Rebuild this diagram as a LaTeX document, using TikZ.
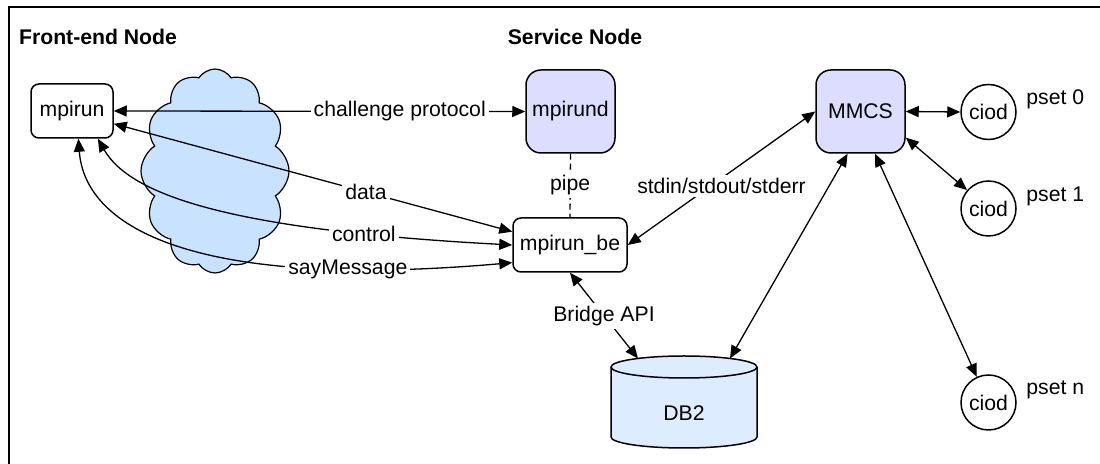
\documentclass[tikz,border=0pt]{standalone}
\usepackage{fontspec}
\setmainfont{Liberation Sans}
\usetikzlibrary{arrows.meta,shapes.symbols}

\definecolor{cloudblue}{RGB}{200,226,255}
\definecolor{procfill}{RGB}{221,221,255}
\definecolor{dbfill}{RGB}{221,236,255}

\begin{document}
\begin{tikzpicture}[
  x=0.5pt, y=-0.5pt,
  every node/.style={font=\fontsize{10.6pt}{12pt}\selectfont, text=black},
  heading/.style={font=\fontsize{10.6pt}{12pt}\selectfont\bfseries},
  proc/.style={draw, line width=0.75pt, rounded corners=4pt, fill=white,
               minimum width=41pt, minimum height=27pt, inner sep=1pt},
  daemon/.style={draw, line width=0.75pt, rounded corners=7.5pt, fill=procfill,
                 minimum width=44.5pt, minimum height=41.5pt, inner sep=1pt},
  ionode/.style={draw, circle, line width=0.75pt, minimum size=27.5pt, inner sep=0pt},
  lbl/.style={fill=white, inner sep=1.5pt},
  conn/.style={line width=0.65pt},
  biarrow/.style={conn, {Triangle[length=6.5pt,width=5.5pt]}-{Triangle[length=6.5pt,width=5.5pt]}},
  pipeline/.style={conn, dash pattern=on 3pt off 2pt},
]
\useasboundingbox (0,0) rectangle (1100,464);

% frame edges
\draw[line width=1pt] (1100,7) -- (9,7) -- (9,464);

% headings
\node[heading] (hfe) at (98,37) {Front-end Node};
\node[heading] (hsn) at (575,37) {Service Node};

% network cloud between front-end and service node
\node[cloud, cloud puffs=12, cloud puff arc=115, aspect=0.72, draw, line width=0.6pt,
      fill=cloudblue, minimum width=74pt, minimum height=102pt] (net) at (215,171) {};

% processes
\node[proc, minimum width=41pt] (mpirun) at (72,111) {mpirun};
\node[daemon] (mpirund) at (570.5,111.5) {mpirund};
\node[proc, minimum width=57pt] (mpirunbe) at (570,245) {mpirun\_be};
\node[daemon] (mmcs) at (860.5,111.5) {MMCS};

% I/O daemons
\node[ionode] (ciod0) at (988.5,112) {ciod};
\node[ionode] (ciod1) at (988.5,208.5) {ciod};
\node[ionode] (ciodn) at (988.5,402.5) {ciod};
\node[anchor=west, inner sep=0pt] (p0) at (1026,99) {pset 0};
\node[anchor=west, inner sep=0pt] (p1) at (1026,196) {pset 1};
\node[anchor=west, inner sep=0pt] (pn) at (1026,390) {pset n};

% database drum
\path[draw, line width=0.75pt, fill=dbfill]
  (611,367) -- (611,437)
  arc[start angle=180, end angle=360, x radius=36.5pt, y radius=5.5pt]
  -- (757,367)
  arc[start angle=0, end angle=180, x radius=36.5pt, y radius=5.5pt] -- cycle;
\draw[line width=0.75pt] (611,367)
  arc[start angle=180, end angle=360, x radius=36.5pt, y radius=5.5pt];
\node[inner sep=0pt, minimum width=73pt, minimum height=35pt] (db2) at (684,413) {DB2};
\coordinate (dbL) at (638,358.5);
\coordinate (dbR) at (730,358.5);

% connections
\draw[biarrow] (mpirun.east) -- node[lbl, pos=0.695] {challenge protocol} (mpirund.west);
\draw[biarrow] (mpirun.343) -- node[lbl, pos=0.633] {data} (mpirunbe.167);
\draw[biarrow] (mpirunbe.west) .. controls (230,230) and (130,195) .. node[lbl, pos=0.2] {control} (mpirun.313);
\draw[biarrow] (mpirunbe.197) .. controls (200,290) and (85,230) .. node[lbl, pos=0.2] {sayMessage} (mpirun.283);
\draw[pipeline] (mpirund.south) -- node[lbl] {pipe} (mpirunbe.north);
\draw[biarrow] (mpirunbe.east) -- node[lbl, yshift=-4pt] {stdin/stdout/stderr} (mmcs.west);
\draw[biarrow] (mpirunbe.south) -- node[lbl] {Bridge API} (dbL);
\draw[biarrow] (mmcs.253) -- (dbR);
\draw[biarrow] (mmcs.289) -- (ciodn);
\draw[biarrow] (mmcs.east) -- (ciod0.west);
\draw[biarrow] (mmcs.330) -- (ciod1);
\end{tikzpicture}
\end{document}
